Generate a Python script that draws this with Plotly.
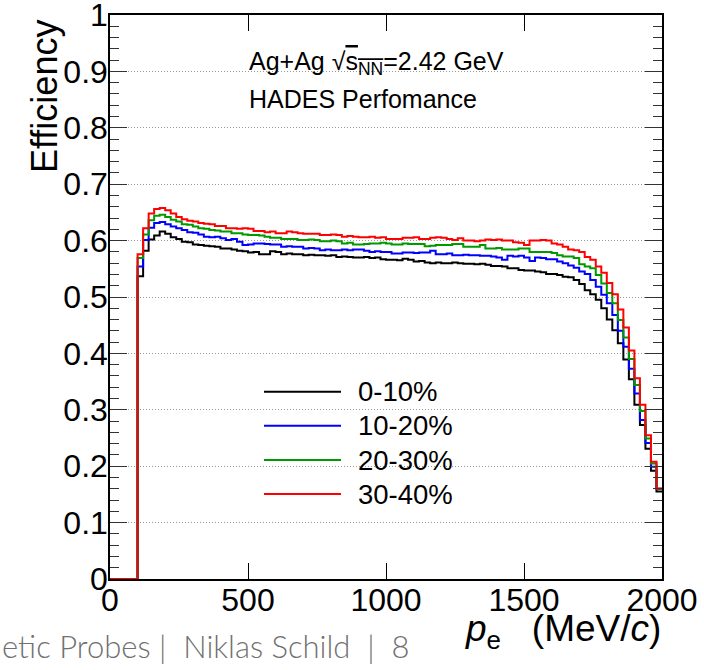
import plotly.graph_objects as go

# ---------------- data ----------------
bin_width = 20
n_bins = 100
bin_edges = [i * bin_width for i in range(n_bins + 1)]

eff_0_10 = [0, 0, 0, 0, 0,
    0.537, 0.582, 0.602, 0.609, 0.616, 0.612, 0.606, 0.603, 0.598, 0.597,
    0.593, 0.592, 0.591, 0.590, 0.589, 0.586, 0.586, 0.584, 0.582, 0.581,
    0.579, 0.580, 0.576, 0.576, 0.581, 0.580, 0.576, 0.577, 0.576, 0.576,
    0.574, 0.575, 0.574, 0.574, 0.573, 0.574, 0.571, 0.572, 0.571, 0.570,
    0.570, 0.571, 0.569, 0.570, 0.567, 0.566, 0.566, 0.565, 0.568, 0.566,
    0.563, 0.564, 0.561, 0.560, 0.561, 0.560, 0.560, 0.561, 0.560, 0.559,
    0.559, 0.558, 0.559, 0.557, 0.555, 0.555, 0.554, 0.551, 0.551, 0.548,
    0.547, 0.547, 0.545, 0.544, 0.541, 0.541, 0.539, 0.536, 0.535, 0.530,
    0.523, 0.512, 0.505, 0.495, 0.480, 0.460, 0.441, 0.418, 0.389, 0.354,
    0.309, 0.273, 0.231, 0.192, 0.155]

eff_10_20 = [0, 0, 0, 0, 0,
    0.554, 0.601, 0.623, 0.631, 0.633, 0.629, 0.625, 0.622, 0.619, 0.615,
    0.614, 0.611, 0.607, 0.606, 0.607, 0.604, 0.601, 0.603, 0.598, 0.592,
    0.593, 0.595, 0.595, 0.594, 0.593, 0.593, 0.589, 0.590, 0.589, 0.589,
    0.586, 0.587, 0.586, 0.583, 0.584, 0.583, 0.583, 0.584, 0.583, 0.584,
    0.584, 0.582, 0.580, 0.581, 0.580, 0.580, 0.577, 0.577, 0.579, 0.579,
    0.578, 0.579, 0.579, 0.582, 0.576, 0.576, 0.577, 0.574, 0.574, 0.575,
    0.574, 0.574, 0.573, 0.573, 0.572, 0.570, 0.566, 0.573, 0.572, 0.573,
    0.570, 0.564, 0.570, 0.569, 0.567, 0.567, 0.563, 0.560, 0.556, 0.552,
    0.545, 0.541, 0.530, 0.518, 0.504, 0.489, 0.468, 0.440, 0.412, 0.373,
    0.329, 0.282, 0.241, 0.199, 0.160]

eff_20_30 = [0, 0, 0, 0, 0,
    0.569, 0.611, 0.636, 0.644, 0.646, 0.642, 0.637, 0.634, 0.629, 0.628,
    0.625, 0.622, 0.621, 0.619, 0.618, 0.616, 0.616, 0.613, 0.613, 0.611,
    0.610, 0.610, 0.609, 0.607, 0.605, 0.605, 0.603, 0.603, 0.603, 0.601,
    0.601, 0.602, 0.601, 0.599, 0.599, 0.600, 0.599, 0.595, 0.596, 0.593,
    0.593, 0.594, 0.595, 0.595, 0.596, 0.595, 0.593, 0.593, 0.595, 0.594,
    0.594, 0.594, 0.590, 0.591, 0.592, 0.592, 0.592, 0.594, 0.594, 0.589,
    0.589, 0.589, 0.592, 0.586, 0.586, 0.587, 0.584, 0.584, 0.584, 0.586,
    0.586, 0.580, 0.580, 0.580, 0.580, 0.578, 0.574, 0.572, 0.572, 0.569,
    0.558, 0.554, 0.551, 0.539, 0.524, 0.507, 0.489, 0.459, 0.428, 0.390,
    0.344, 0.298, 0.249, 0.205, 0.160]

eff_30_40 = [0, 0, 0, 0, 0,
    0.576, 0.622, 0.648, 0.656, 0.658, 0.654, 0.648, 0.642, 0.638, 0.635,
    0.634, 0.631, 0.630, 0.629, 0.626, 0.626, 0.622, 0.622, 0.621, 0.622,
    0.621, 0.617, 0.617, 0.615, 0.616, 0.613, 0.613, 0.616, 0.615, 0.613,
    0.612, 0.612, 0.612, 0.610, 0.610, 0.611, 0.610, 0.607, 0.608, 0.607,
    0.606, 0.606, 0.607, 0.605, 0.606, 0.603, 0.603, 0.603, 0.605, 0.605,
    0.606, 0.603, 0.603, 0.605, 0.606, 0.605, 0.603, 0.601, 0.604, 0.600,
    0.600, 0.599, 0.600, 0.602, 0.601, 0.602, 0.600, 0.600, 0.597, 0.596,
    0.592, 0.600, 0.600, 0.601, 0.600, 0.595, 0.593, 0.589, 0.584, 0.583,
    0.580, 0.571, 0.566, 0.554, 0.543, 0.525, 0.505, 0.478, 0.446, 0.405,
    0.356, 0.309, 0.255, 0.208, 0.160]

series_names = ["0-10%", "10-20%", "20-30%", "30-40%"]
series_values = [eff_0_10, eff_10_20, eff_20_30, eff_30_40]
series_colors = ["#000000", "#0000ff", "#009900", "#ff0000"]

y_tick_vals = [0, 0.1, 0.2, 0.3, 0.4, 0.5, 0.6, 0.7, 0.8, 0.9, 1.0]
y_tick_text = ["0", "0.1", "0.2", "0.3", "0.4", "0.5", "0.6", "0.7", "0.8", "0.9", "1"]
x_tick_vals = [0, 500, 1000, 1500, 2000]
x_tick_text = ["0", "500", "1000", "1500", "2000"]

# ---------------- figure ----------------
FONT = "Liberation Sans, Arial, Helvetica, sans-serif"
fig = go.Figure()

for name, vals, col in zip(series_names, series_values, series_colors):
    fig.add_trace(go.Scatter(
        x=bin_edges, y=vals + [vals[-1]],
        mode="lines", line=dict(color=col, width=2, shape="hv"),
        name=name, showlegend=False, hoverinfo="skip"))

# plot area geometry (pixels)
L, R, T, B = 110, 42, 15, 91
W, H = 704, 670
pw, ph = W - L - R, H - T - B

def px(xp):
    return (xp - L) / pw

def py(yp):
    return (H - B - yp) / ph

shapes = []
annotations = []
# manual legend
legend_rows_y = [391.7, 425.7, 460.0, 494.0]
for name, col, yy in zip(series_names, series_colors, legend_rows_y):
    shapes.append(dict(type="line", xref="paper", yref="paper",
                       x0=px(264), x1=px(341), y0=py(yy), y1=py(yy),
                       line=dict(color=col, width=2)))
    annotations.append(dict(xref="paper", yref="paper", x=px(356), y=py(yy),
                            xanchor="left", yanchor="middle", showarrow=False,
                            text=name, font=dict(family=FONT, size=27.5, color="black")))

NB = "\u00a0"
annotations += [
    dict(xref="paper", yref="paper", x=px(247), y=py(63), xanchor="left", yanchor="middle",
         showarrow=False,
         text="Ag+Ag \u221a<span style='text-decoration:overline'>s<sub>NN</sub></span>=2.42 GeV",
         font=dict(family=FONT, size=25, color="black")),
    dict(xref="paper", yref="paper", x=px(247), y=py(99), xanchor="left", yanchor="middle",
         showarrow=False, text="HADES Perfomance",
         font=dict(family=FONT, size=25, color="black")),
    dict(xref="paper", yref="paper", x=px(44), y=py(97), xanchor="center", yanchor="middle",
         showarrow=False, text="Efficiency", textangle=-90,
         font=dict(family=FONT, size=36, color="black")),
    dict(xref="paper", yref="paper", x=px(663), y=py(631), xanchor="right", yanchor="middle",
         showarrow=False, text="<i>p</i><sub>e</sub>" + NB + NB + " (MeV/<i>c</i>)",
         font=dict(family=FONT, size=37, color="black")),
    dict(xref="paper", yref="paper", x=px(0), y=py(646), xanchor="left", yanchor="middle",
         showarrow=False, text="etic Probes |  Niklas Schild  |  8",
         font=dict(family="Lato, Raleway, sans-serif", size=31, color="#707070", weight=300)),
]

fig.update_layout(
    width=W, height=H,
    margin=dict(l=L, r=R, t=T, b=B, pad=0, autoexpand=False),
    paper_bgcolor="white", plot_bgcolor="white",
    showlegend=False,
    shapes=shapes, annotations=annotations,
    xaxis=dict(range=[0, 2000], tickvals=x_tick_vals, ticktext=x_tick_text,
               ticks="inside", ticklen=16, tickwidth=1, tickcolor="black",
               showline=True, linecolor="black", linewidth=1.5, mirror="ticks",
               showgrid=False, zeroline=False, ticklabelstandoff=-8,
               ticklabeloverflow="allow", automargin=False,
               tickfont=dict(family=FONT, size=32, color="black")),
    yaxis=dict(range=[0, 1], tickvals=y_tick_vals, ticktext=y_tick_text,
               ticks="inside", ticklen=17, tickwidth=1, tickcolor="#333333",
               showline=True, linecolor="black", linewidth=1.5, mirror="ticks",
               showgrid=True, gridcolor="#9a9a9a", griddash="1px,2px", gridwidth=1,
               zeroline=False, ticklabelstandoff=-6, ticklabeloverflow="allow",
               automargin=False,
               minor=dict(dtick=0.02, ticks="inside", ticklen=9, tickwidth=1,
                          tickcolor="#333333", showgrid=False),
               tickfont=dict(family=FONT, size=32, color="black")),
)

fig.write_html("out.html")
